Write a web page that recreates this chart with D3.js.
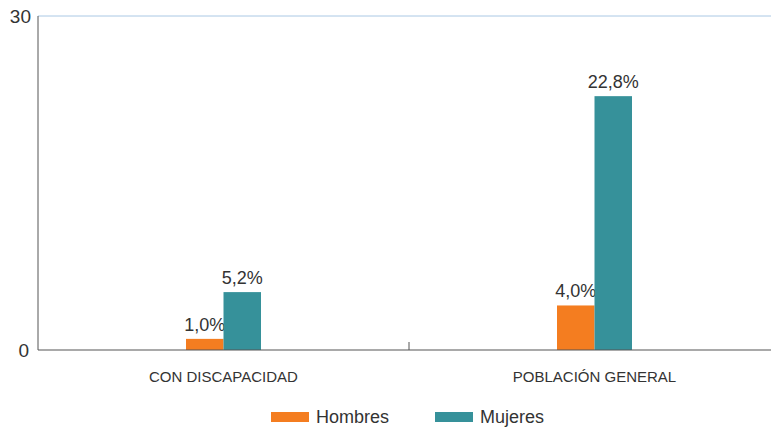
<!DOCTYPE html>
<html><head><meta charset="utf-8">
<script src="https://cdn.jsdelivr.net/npm/d3@7"></script>
<style>body{margin:0;background:#fff}svg{font-family:"Liberation Sans",Arial,sans-serif}</style>
</head><body><svg id="c" width="772" height="428"></svg>
<script>
const categories = ["CON DISCAPACIDAD", "POBLACIÓN GENERAL"];
const seriesNames = ["Hombres", "Mujeres"];
const hombres = [1.0, 4.0];
const mujeres = [5.2, 22.8];
const yTicks = [0, 30];
const colors = ["#F47D20", "#36919A"];

const svg = d3.select("#c");
const m = {l: 38, r: 771, t: 16, b: 350};
const x = d3.scaleBand().domain(categories).range([m.l, 780]);
const y = d3.scaleLinear().domain([0, 30]).range([m.b, m.t]);
const barW = 37.5;
const sub = d3.scaleBand().domain(seriesNames).range([-barW, barW]);

// gridline at top
svg.append("line").attr("x1", m.l).attr("x2", m.r).attr("y1", y(30)).attr("y2", y(30))
  .attr("stroke", "#aac8e4").attr("stroke-width", 1);

// y axis labels
svg.selectAll(".yt").data(yTicks).enter().append("text")
  .attr("x", d => d === 0 ? 29 : 31).attr("y", d => y(d)).attr("dy", "0.35em")
  .attr("text-anchor", "end").attr("font-size", 19).attr("fill", "#333").text(d => d);

const data = [hombres, mujeres];
categories.forEach((c, i) => {
  seriesNames.forEach((s, j) => {
    const v = data[j][i];
    const bx = x(c) + x.bandwidth() / 2 + sub(s);
    svg.append("rect").attr("x", bx).attr("y", y(v)).attr("width", sub.bandwidth())
      .attr("height", y(0) - y(v)).attr("fill", colors[j]);
    svg.append("text").attr("x", bx + sub.bandwidth() / 2).attr("y", y(v) - 8)
      .attr("text-anchor", "middle").attr("font-size", 18).attr("fill", "#333")
      .text(v.toFixed(1).replace(".", ",") + "%");
  });
  svg.append("text").attr("x", x(c) + x.bandwidth() / 2).attr("y", 382)
    .attr("text-anchor", "middle").attr("font-size", 15).attr("fill", "#333").text(c);
});

// axes lines
svg.append("line").attr("x1", m.l).attr("x2", m.l).attr("y1", m.t).attr("y2", m.b)
  .attr("stroke", "#555").attr("stroke-width", 1);
svg.append("line").attr("x1", m.l).attr("x2", m.r).attr("y1", m.b).attr("y2", m.b)
  .attr("stroke", "#555").attr("stroke-width", 1.2);
// category separator tick
const sep = x(categories[1]);
svg.append("line").attr("x1", sep).attr("x2", sep).attr("y1", m.b - 8).attr("y2", m.b)
  .attr("stroke", "#555").attr("stroke-width", 1);

// legend
const legX = [271, 435];
seriesNames.forEach((s, j) => {
  svg.append("rect").attr("x", legX[j]).attr("y", 412).attr("width", 38).attr("height", 10)
    .attr("fill", colors[j]);
  svg.append("text").attr("x", legX[j] + 45).attr("y", 417).attr("dy", "0.35em")
    .attr("font-size", 18).attr("fill", "#333").text(s);
});
</script></body></html>
